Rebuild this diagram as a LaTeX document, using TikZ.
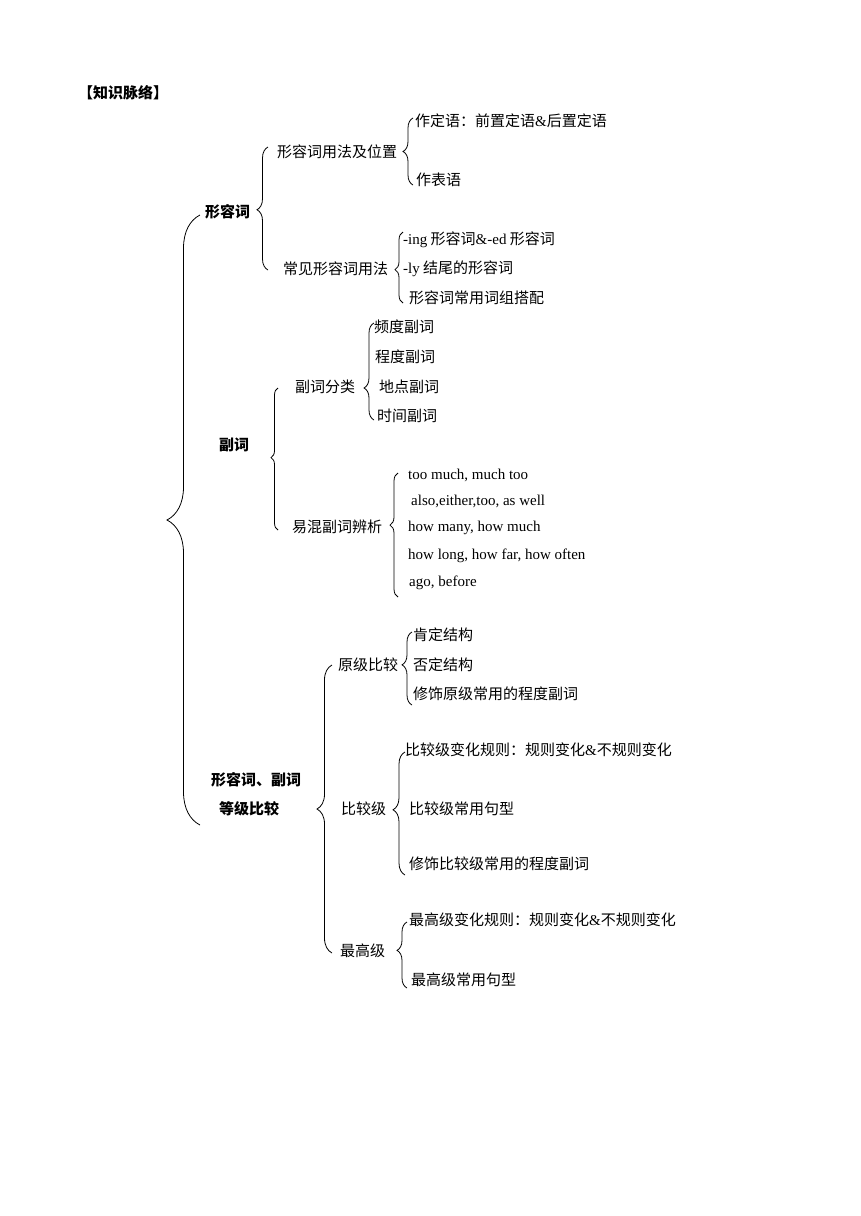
\documentclass[tikz,border=0pt]{standalone}
\usepackage{fontspec}
\setmainfont{Liberation Serif}
\newfontfamily\cjk{Noto Sans CJK SC}
\usetikzlibrary{decorations.pathreplacing}
\newcommand{\en}[1]{{\rmfamily #1}}

\begin{document}
\begin{tikzpicture}[x=1pt,y=-1pt,
	curly/.style 2 args={decorate, decoration={brace, amplitude=#1, aspect=#2, mirror}, line width=0.8pt},
	leaf/.style={anchor=west, inner sep=0pt, font=\cjk\fontsize{15}{18}\selectfont},
	topic/.style={leaf, font=\cjk\bfseries\fontsize{15}{29}\selectfont}]
	\useasboundingbox (0,0) rectangle (860,1216);
	
	\node[topic] (title) at (78,93) {【知识脉络】};
	
	%first level
	\node[topic] (adj) at (205,212) {形容词};
	\node[topic] (adv) at (219,445) {副词};
	\node[topic, align=left] (cmp) at (211,794.5) {形容词、副词\\\hspace*{8pt}等级比较};
	
	%second level
	\node[leaf] (adjuse) at (277,152) {形容词用法及位置};
	\node[leaf] (adjcommon) at (283,269) {常见形容词用法};
	\node[leaf] (advtype) at (295,387) {副词分类};
	\node[leaf] (advconf) at (292,527) {易混副词辨析};
	\node[leaf] (pos) at (338,665) {原级比较};
	\node[leaf] (comp) at (341,809) {比较级};
	\node[leaf] (sup) at (340,951) {最高级};
	
	%leaves: x/y/text
	\foreach \x/\y/\t [count=\i] in {415/121/作定语：前置定语\en{\&}后置定语, 416/180/作表语}
		\node[leaf] (adjuse-\i) at (\x,\y) {\t};
	\foreach \x/\y/\t [count=\i] in {403/240/{\en{-ing} 形容词\en{\&-ed} 形容词}, 403/269/{\en{-ly} 结尾的形容词}, 409/298/形容词常用词组搭配}
		\node[leaf] (adjcommon-\i) at (\x,\y) {\t};
	\foreach \x/\y/\t [count=\i] in {374/327/频度副词, 375/357/程度副词, 379/387/地点副词, 377/416/时间副词}
		\node[leaf] (advtype-\i) at (\x,\y) {\t};
	\foreach \x/\y/\t [count=\i] in {408/475/{too much, much too}, 411/501/{also,either,too, as well}, 408/528/{how many, how much}, 408/556/{how long, how far, how often}, 409/583/{ago, before}}
		\node[leaf] (advconf-\i) at (\x,\y) {\en{\t}};
	\foreach \x/\y/\t [count=\i] in {413/635/肯定结构, 413/665/否定结构, 413/694/修饰原级常用的程度副词}
		\node[leaf] (pos-\i) at (\x,\y) {\t};
	\foreach \x/\y/\t [count=\i] in {405/750/比较级变化规则：规则变化\en{\&}不规则变化, 409/809/比较级常用句型, 409/864/修饰比较级常用的程度副词}
		\node[leaf] (comp-\i) at (\x,\y) {\t};
	\foreach \x/\y/\t [count=\i] in {409/920/最高级变化规则：规则变化\en{\&}不规则变化, 411/980/最高级常用句型}
		\node[leaf] (sup-\i) at (\x,\y) {\t};
	
	%brace ends
	\coordinate (main-t) at (200,215);	\coordinate (main-b) at (200,825);
	\coordinate (adj-t) at (268,147);	\coordinate (adj-b) at (268,270);
	\coordinate (adv-t) at (278,388);	\coordinate (adv-b) at (278,530);
	\coordinate (cmp-t) at (332,665);	\coordinate (cmp-b) at (332,953);
	\coordinate (adjuse-t) at (413,118);	\coordinate (adjuse-b) at (413,185);
	\coordinate (adjcommon-t) at (403,232);	\coordinate (adjcommon-b) at (403,303);
	\coordinate (advtype-t) at (374,323);	\coordinate (advtype-b) at (374,420);
	\coordinate (advconf-t) at (398,473);	\coordinate (advconf-b) at (398,597);
	\coordinate (pos-t) at (412,632);	\coordinate (pos-b) at (412,705);
	\coordinate (comp-t) at (405,752);	\coordinate (comp-b) at (405,875);
	\coordinate (sup-t) at (407,922);	\coordinate (sup-b) at (407,988);
	
	%braces
	\draw[curly={33pt}{0.5}] (main-t) -- (main-b);
	\draw[curly={11pt}{0.51}] (adj-t) -- (adj-b);
	\draw[curly={7pt}{0.49}] (adv-t) -- (adv-b);
	\draw[curly={15pt}{0.5}] (cmp-t) -- (cmp-b);
	\draw[curly={10pt}{0.5}] (adjuse-t) -- (adjuse-b);
	\draw[curly={8pt}{0.53}] (adjcommon-t) -- (adjcommon-b);
	\draw[curly={10pt}{0.67}] (advtype-t) -- (advtype-b);
	\draw[curly={8pt}{0.42}] (advconf-t) -- (advconf-b);
	\draw[curly={10pt}{0.45}] (pos-t) -- (pos-b);
	\draw[curly={12pt}{0.47}] (comp-t) -- (comp-b);
	\draw[curly={10pt}{0.43}] (sup-t) -- (sup-b);
\end{tikzpicture}
\end{document}
